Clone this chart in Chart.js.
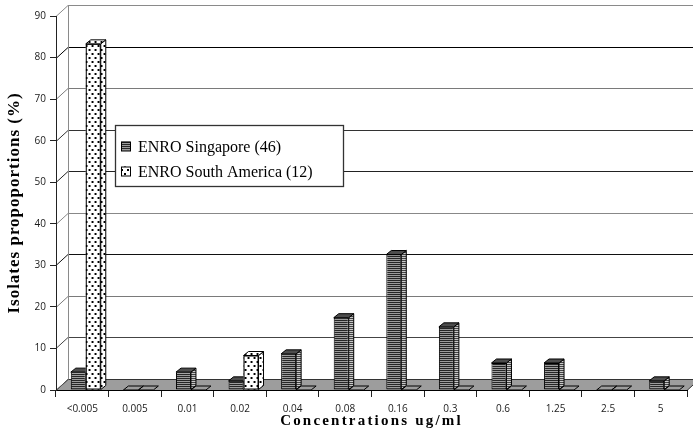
<!DOCTYPE html>
<html>
<head>
<meta charset="utf-8">
<script src="https://cdn.jsdelivr.net/npm/chart.js@4/dist/chart.umd.min.js"></script>
<style>
  html, body { margin: 0; padding: 0; background: #fff; }
</style>
</head>
<body>
<canvas id="chart" width="693" height="440"></canvas>
<script>
// data (% of isolates)
const categories = ["<0.005", "0.005", "0.01", "0.02", "0.04", "0.08", "0.16", "0.3", "0.6", "1.25", "2.5", "5"];
const singapore = [4.3, 0, 4.3, 2.2, 8.7, 17.4, 32.6, 15.2, 6.5, 6.5, 0, 2.2];
const southAmerica = [83.3, 0, 0, 8.3, 0, 0, 0, 0, 0, 0, 0, 0];
const seriesLabels = ["ENRO Singapore (46)", "ENRO South America (12)"];
const yMax = 90;
const yStep = 10;

// 3d look
const DEPTH_X = 5, DEPTH_Y = 4;   // bar depth
const WALL_X = 12, WALL_Y = 11;   // back wall offset
const BAR_SHIFT = 3.5;
const gridColors = ["#555", "#444", "#7a7a7a", "#111", "#888", "#222", "#333", "#7a7a7a", "#000", "#8a8a8a"];

function makePattern(w, h, paint) {
    const c = document.createElement("canvas");
    c.width = w; c.height = h;
    const g = c.getContext("2d");
    paint(g);
    return g.createPattern(c, "repeat");
}

const stripes = makePattern(4, 2, g => {
    g.fillStyle = "#262626"; g.fillRect(0, 0, 4, 1);
    g.fillStyle = "#9c9c9c"; g.fillRect(0, 1, 4, 1);
});
const stripesLight = makePattern(4, 2, g => {
    g.fillStyle = "#444"; g.fillRect(0, 0, 4, 1);
    g.fillStyle = "#c8c8c8"; g.fillRect(0, 1, 4, 1);
});
const dots = makePattern(6, 8, g => {
    g.fillStyle = "#fff"; g.fillRect(0, 0, 6, 8);
    g.fillStyle = "#000";
    g.fillRect(1, 1, 2, 2);
    g.fillRect(4, 5, 2, 2);
});

const faceStyles = [
    { front: stripes, side: stripesLight, top: "#4d4d4d" },
    { front: dots, side: dots, top: dots }
];

const crisp = v => Math.round(v) + 0.5;

function barFaces(ctx, bar, value, style, withFront) {
    const { x, y, base, width } = bar.getProps(["x", "y", "base", "width"], true);
    const l = x - width / 2, r = x + width / 2;
    if (withFront && value > 0) {
        ctx.fillStyle = style.front;
        ctx.fillRect(l, y, width, base - y);
        ctx.strokeRect(l + 0.5, y + 0.5, width - 1, base - y - 1);
    }
    if (value > 0) {
        ctx.beginPath();
        ctx.moveTo(r, y);
        ctx.lineTo(r + DEPTH_X, y - DEPTH_Y);
        ctx.lineTo(r + DEPTH_X, base - DEPTH_Y);
        ctx.lineTo(r, base);
        ctx.closePath();
        ctx.fillStyle = style.side;
        ctx.fill();
        ctx.stroke();
    }
    ctx.beginPath();
    ctx.moveTo(l, y);
    ctx.lineTo(r, y);
    ctx.lineTo(r + DEPTH_X, y - DEPTH_Y);
    ctx.lineTo(l + DEPTH_X, y - DEPTH_Y);
    ctx.closePath();
    if (value > 0) {
        ctx.fillStyle = style.top;
        ctx.fill();
    }
    ctx.stroke();
}

const room3d = {
    id: "room3d",
    beforeDraw(chart) {
        const { ctx, chartArea: a, scales: { y } } = chart;
        const y0 = crisp(y.getPixelForValue(0));
        ctx.save();
        ctx.lineWidth = 1;

        // floor
        ctx.fillStyle = "#9d9d9d";
        ctx.beginPath();
        ctx.moveTo(a.left, y0);
        ctx.lineTo(a.right, y0);
        ctx.lineTo(a.right + WALL_X, y0 - WALL_Y);
        ctx.lineTo(a.left + WALL_X, y0 - WALL_Y);
        ctx.closePath();
        ctx.fill();
        ctx.strokeStyle = "#333";
        ctx.stroke();

        // back wall grid + side wall diagonals
        for (let v = 0; v <= yMax; v += yStep) {
            const py = crisp(y.getPixelForValue(v));
            ctx.strokeStyle = gridColors[v / yStep];
            ctx.beginPath();
            ctx.moveTo(a.left, py);
            ctx.lineTo(a.left + WALL_X, py - WALL_Y);
            if (v > 0) ctx.lineTo(a.right + WALL_X + 10, py - WALL_Y);
            ctx.stroke();
        }
        ctx.strokeStyle = "#8a8a8a";
        ctx.beginPath();
        ctx.moveTo(crisp(a.left + WALL_X), crisp(y.getPixelForValue(yMax)) - WALL_Y);
        ctx.lineTo(crisp(a.left + WALL_X), y0 - WALL_Y);
        ctx.stroke();
        ctx.restore();
    },
    beforeDatasetsDraw(chart) {
        chart.ctx.save();
        chart.ctx.translate(BAR_SHIFT, 0);
    },
    afterDatasetsDraw(chart) {
        const ctx = chart.ctx;
        const metaA = chart.getDatasetMeta(0);
        const metaB = chart.getDatasetMeta(1);
        ctx.lineWidth = 1;
        ctx.strokeStyle = "#000";
        // per category: left bar faces, then the right bar (front included) on top
        categories.forEach((c, i) => {
            barFaces(ctx, metaA.data[i], singapore[i], faceStyles[0], false);
            barFaces(ctx, metaB.data[i], southAmerica[i], faceStyles[1], true);
        });
        ctx.restore();
    },
    afterDraw(chart) {
        const { ctx, chartArea: a } = chart;
        ctx.save();
        ctx.fillStyle = "#000";

        // axis titles (spaced out like the original)
        ctx.font = 'bold 17px "Liberation Serif", "Times New Roman", serif';
        ctx.letterSpacing = "1px";
        ctx.textAlign = "center";
        ctx.textBaseline = "middle";
        ctx.save();
        ctx.translate(14.5, (a.top + a.bottom) / 2);
        ctx.rotate(-Math.PI / 2);
        ctx.fillText("Isolates propoportions (%)", 0, 0);
        ctx.restore();

        ctx.font = 'bold 15px "Liberation Serif", "Times New Roman", serif';
        ctx.letterSpacing = "2.2px";
        ctx.fillText("Concentrations ug/ml", (a.left + a.right) / 2, 421);
        ctx.letterSpacing = "0px";

        // legend
        const box = { x: 115.5, y: 125.5, w: 228, h: 61 };
        ctx.fillStyle = "#fff";
        ctx.fillRect(box.x, box.y, box.w, box.h);
        ctx.strokeStyle = "#333";
        ctx.lineWidth = 1.3;
        ctx.strokeRect(box.x, box.y, box.w, box.h);
        ctx.lineWidth = 1;
        ctx.font = '16px "Liberation Serif", "Times New Roman", serif';
        ctx.textAlign = "left";
        seriesLabels.forEach((label, i) => {
            const cy = box.y + 21 + i * 25;
            ctx.fillStyle = faceStyles[i].front;
            ctx.fillRect(121, cy - 5, 9, 9);
            ctx.strokeStyle = "#000";
            ctx.strokeRect(121.5, cy - 4.5, 9, 9);
            ctx.fillStyle = "#000";
            ctx.fillText(label, 138, cy + 1);
        });
        ctx.restore();
    }
};

const tickFont = { family: '"Open Sans", "DejaVu Sans", sans-serif', size: 10 };

new Chart(document.getElementById("chart"), {
    type: "bar",
    data: {
        labels: categories,
        datasets: [
            {
                label: seriesLabels[0],
                data: singapore,
                backgroundColor: stripes,
                borderColor: "#000",
                borderWidth: 1,
                borderSkipped: false
            },
            {
                label: seriesLabels[1],
                data: southAmerica,
                backgroundColor: dots,
                borderColor: "#000",
                borderWidth: 1,
                borderSkipped: false
            }
        ]
    },
    options: {
        responsive: false,
        animation: false,
        layout: { padding: { top: 16, right: 6, left: 0, bottom: 0 } },
        datasets: { bar: { categoryPercentage: 0.57, barPercentage: 1, clip: false } },
        plugins: { legend: { display: false }, tooltip: { enabled: false } },
        scales: {
            x: {
                grid: { drawOnChartArea: false, drawTicks: true, tickLength: 7, color: "#222", offset: true },
                border: { display: true, color: "#000" },
                ticks: { font: tickFont, color: "#1a1a1a", padding: 6, maxRotation: 0, autoSkip: false },
                afterFit: s => { s.height = 50; }
            },
            y: {
                min: 0,
                max: yMax,
                grid: { drawOnChartArea: false, drawTicks: true, tickLength: 6, color: "#222" },
                border: { display: true, color: "#222" },
                ticks: { stepSize: yStep, font: tickFont, color: "#1a1a1a", padding: 4 },
                afterFit: s => { s.width = 56; }
            }
        }
    },
    plugins: [room3d]
});
</script>
</body>
</html>
